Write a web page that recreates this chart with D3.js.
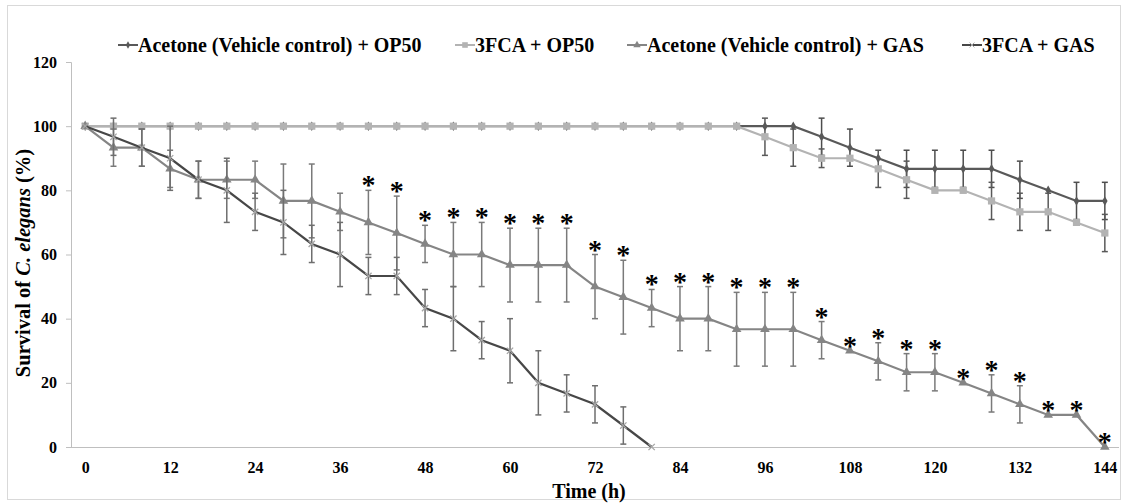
<!DOCTYPE html>
<meta charset="utf-8">
<style>
body {
  margin: 0;
  background: #fff;
}
text {
  font-family: "Liberation Serif", "Times New Roman", serif;
  font-weight: bold;
  fill: #000;
}
.axis-line {
  stroke: #bfbfbf;
  stroke-width: 1;
  fill: none;
}
</style>
<body>
<script src="https://cdn.jsdelivr.net/npm/d3@7"></script>
<script>

var width = 1127,
    height = 504;

// time points (h)
var hours = [0, 4, 8, 12, 16, 20, 24, 28, 32, 36, 40, 44, 48, 52, 56, 60, 64, 68, 72,
             76, 80, 84, 88, 92, 96, 100, 104, 108, 112, 116, 120, 124, 128, 132, 136, 140, 144];

var xTicks = [0, 12, 24, 36, 48, 60, 72, 84, 96, 108, 120, 132, 144];
var yTicks = [0, 20, 40, 60, 80, 100, 120];

var names = ["Acetone (Vehicle control) + OP50", "3FCA + OP50",
             "Acetone (Vehicle control) + GAS", "3FCA + GAS"];

var acetoneOP50 = [100, 100, 100, 100, 100, 100, 100, 100, 100, 100, 100, 100, 100, 100, 100, 100,
                   100, 100, 100, 100, 100, 100, 100, 100, 100, 100, 96.7, 93.3, 90, 86.7, 86.7,
                   86.7, 86.7, 83.3, 80, 76.7, 76.7];
var acetoneOP50Err = [0, 0, 0, 0, 0, 0, 0, 0, 0, 0, 0, 0, 0, 0, 0, 0, 0, 0, 0, 0, 0, 0, 0, 0,
                      0, 0, 5.8, 5.8, 0, 5.8, 5.8, 5.8, 5.8, 5.8, 0, 5.8, 5.8];

var fcaOP50 = [100, 100, 100, 100, 100, 100, 100, 100, 100, 100, 100, 100, 100, 100, 100, 100,
               100, 100, 100, 100, 100, 100, 100, 100, 96.7, 93.3, 90, 90, 86.7, 83.3, 80,
               80, 76.7, 73.3, 73.3, 70, 66.7];
var fcaOP50Err = [0, 0, 0, 0, 0, 0, 0, 0, 0, 0, 0, 0, 0, 0, 0, 0, 0, 0, 0, 0, 0, 0, 0, 0,
                  5.8, 5.8, 2.9, 0, 5.8, 5.8, 0, 0, 5.8, 5.8, 5.8, 0, 5.8];

var acetoneGAS = [100, 93.3, 93.3, 86.7, 83.3, 83.3, 83.3, 76.7, 76.7, 73.3, 70, 66.7, 63.3, 60,
                  60, 56.7, 56.7, 56.7, 50, 46.7, 43.3, 40, 40, 36.7, 36.7, 36.7, 33.3, 30, 26.7,
                  23.3, 23.3, 20, 16.7, 13.3, 10, 10, 0];
var acetoneGASErr = [0, 5.8, 5.8, 5.8, 5.8, 5.8, 5.8, 11.5, 11.5, 5.8, 10, 11.5, 5.8, 10, 10,
                     11.5, 11.5, 11.5, 10, 11.5, 5.8, 10, 10, 11.5, 11.5, 11.5, 5.8, 0, 5.8,
                     5.8, 5.8, 0, 5.8, 5.8, 0, 0, 0];

var fcaGAS = [100, 96.7, 93.3, 90, 83.3, 80, 73.3, 70, 63.3, 60, 53.3, 53.3, 43.3, 40, 33.3,
              30, 20, 16.7, 13.3, 6.7, 0];
var fcaGASErr = [0, 5.8, 5.8, 10, 5.8, 10, 5.8, 10, 5.8, 10, 5.8, 5.8, 5.8, 10, 5.8, 10, 10,
                 5.8, 5.8, 5.8, 0];

// hours where GAS groups differ significantly
var starHours = [40, 44, 48, 52, 56, 60, 64, 68, 72, 76, 80, 84, 88, 92, 96, 100, 104, 108,
                 112, 116, 120, 124, 128, 132, 136, 140, 144];

var series = [
  {name: names[0], values: acetoneOP50, err: acetoneOP50Err, line: "#595959", bar: "#4d4d4d",
   marker: "diamond", mfill: "#595959", mstroke: "none", msize: 26},
  {name: names[1], values: fcaOP50, err: fcaOP50Err, line: "#b3b3b3", bar: "#595959",
   marker: "square", mfill: "#b3b3b3", mstroke: "none", msize: 52},
  {name: names[2], values: acetoneGAS, err: acetoneGASErr, line: "#858585", bar: "#7a7a7a",
   marker: "triangle", mfill: "#858585", mstroke: "none", msize: 40},
  {name: names[3], values: fcaGAS, err: fcaGASErr, line: "#474747", bar: "#6e6e6e",
   marker: "cross", mfill: "none", mstroke: "#a6a6a6", msize: 40}
];

var plotLeft = 71, plotRight = 1119, plotTop = 62, plotBottom = 447;

var x = d3.scalePoint()
    .domain(hours)
    .range([plotLeft, plotRight])
    .padding(0.5);

var y = d3.scaleLinear()
    .domain([0, 120])
    .range([plotBottom, plotTop]);

var svg = d3.select("body").append("svg")
    .attr("width", width)
    .attr("height", height);

// chart border
svg.append("rect")
    .attr("x", 7.5).attr("y", 5.5)
    .attr("width", 1113).attr("height", 494)
    .attr("fill", "none")
    .attr("stroke", "#d9d9d9");

function markerPath(kind, size) {
  if (kind == "cross") {
    var r = Math.sqrt(size) / 2;
    return "M" + (-r) + "," + (-r) + "L" + r + "," + r + "M" + (-r) + "," + r + "L" + r + "," + (-r);
  }
  var sym = {diamond: d3.symbolDiamond, square: d3.symbolSquare, triangle: d3.symbolTriangle}[kind];
  return d3.symbol().type(sym).size(size)();
}

// y axis
var yAxis = svg.append("g")
    .attr("transform", "translate(" + plotLeft + ",0)")
    .call(d3.axisLeft(y).tickValues(yTicks).tickSize(5).tickPadding(9));
yAxis.select(".domain").attr("class", "axis-line")
    .attr("d", "M-5," + (plotTop + 0.5) + "H0.5V" + plotBottom);
yAxis.selectAll(".tick line").attr("stroke", "#bfbfbf");
yAxis.selectAll(".tick text")
    .style("font-size", "16px")
    .style("font-family", "'Liberation Serif', serif")
    .style("font-weight", "bold");

// x axis
var xAxis = svg.append("g")
    .attr("transform", "translate(0," + plotBottom + ")")
    .call(d3.axisBottom(x).tickValues(xTicks).tickSize(0).tickPadding(15));
xAxis.select(".domain").attr("class", "axis-line").attr("d", "M" + plotLeft + ",0.5H" + plotRight);
xAxis.selectAll(".tick text")
    .style("font-size", "16px")
    .style("font-family", "'Liberation Serif', serif")
    .style("font-weight", "bold");

// axis titles
svg.append("text")
    .attr("x", (plotLeft + plotRight) / 2 - 6)
    .attr("y", 498)
    .attr("text-anchor", "middle")
    .style("font-size", "20px")
    .text("Time (h)");

var yTitle = svg.append("text")
    .attr("transform", "translate(30,263) rotate(-90)")
    .attr("text-anchor", "middle")
    .style("font-size", "20.5px");
yTitle.append("tspan").text("Survival of ");
yTitle.append("tspan").style("font-style", "italic").text("C. elegans");
yTitle.append("tspan").text(" (%)");

var line = d3.line()
    .x(function(d) { return x(d.h); })
    .y(function(d) { return y(d.v); });

series.forEach(function(s) {
  var pts = s.values.map(function(v, i) { return {h: hours[i], v: v, e: s.err[i]}; });
  var g = svg.append("g");

  var bars = g.selectAll(".err")
      .data(pts.filter(function(d) { return d.e > 0; }))
    .enter().append("g")
      .attr("stroke", s.bar)
      .attr("stroke-width", 1.5);
  bars.append("line")
      .attr("x1", function(d) { return x(d.h); })
      .attr("x2", function(d) { return x(d.h); })
      .attr("y1", function(d) { return y(d.v + d.e); })
      .attr("y2", function(d) { return y(d.v - d.e); });
  [1, -1].forEach(function(sign) {
    bars.append("line")
        .attr("x1", function(d) { return x(d.h) - 3; })
        .attr("x2", function(d) { return x(d.h) + 3; })
        .attr("y1", function(d) { return y(d.v + sign * d.e); })
        .attr("y2", function(d) { return y(d.v + sign * d.e); });
  });

  g.append("path")
      .datum(pts)
      .attr("d", line)
      .attr("fill", "none")
      .attr("stroke", s.line)
      .attr("stroke-width", 2.2);

  g.selectAll(".pt")
      .data(pts)
    .enter().append("path")
      .attr("transform", function(d) { return "translate(" + x(d.h) + "," + y(d.v) + ")"; })
      .attr("d", markerPath(s.marker, s.msize))
      .attr("fill", s.mfill)
      .attr("stroke", s.mstroke)
      .attr("stroke-width", 1.3);
});

// significance stars on the vehicle + GAS curve
svg.selectAll(".star")
    .data(starHours)
  .enter().append("text")
    .attr("class", "star")
    .attr("x", function(h) { return x(h); })
    .attr("y", function(h) {
      var i = hours.indexOf(h);
      return y(acetoneGAS[i] + acetoneGASErr[i]) + 4;
    })
    .attr("text-anchor", "middle")
    .style("font-size", "28px")
    .text("*");

// legend
var legendX = [118, 455, 627, 962];
var legend = svg.selectAll(".legend")
    .data(series)
  .enter().append("g")
    .attr("transform", function(d, i) { return "translate(" + legendX[i] + ",45)"; });
legend.append("line")
    .attr("x1", 0).attr("x2", 20)
    .attr("stroke", function(d) { return d.line; })
    .attr("stroke-width", 2);
legend.append("path")
    .attr("transform", "translate(10,0)")
    .attr("d", function(d) { return markerPath(d.marker, d.msize * 0.6); })
    .attr("fill", function(d) { return d.mfill; })
    .attr("stroke", function(d) { return d.mstroke; });
legend.append("text")
    .attr("x", 20)
    .attr("dy", "0.35em")
    .style("font-size", "20px")
    .text(function(d) { return d.name; });

</script>
